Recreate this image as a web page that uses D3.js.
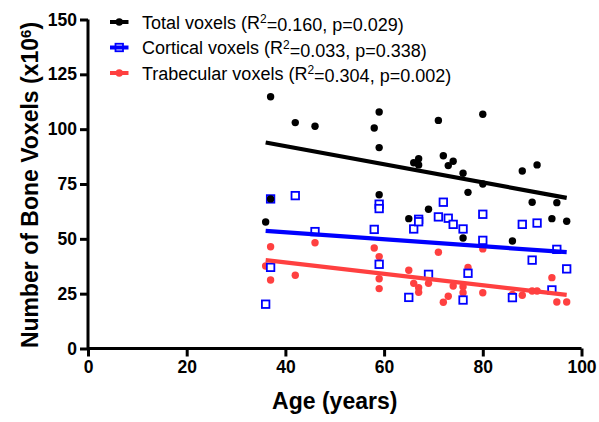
<!DOCTYPE html>
<html>
<head>
<meta charset="utf-8">
<script src="https://cdn.jsdelivr.net/npm/d3@7"></script>
<style>
  html, body { margin: 0; padding: 0; background: #fff; }
  svg { display: block; font-family: "Liberation Sans", Arial, sans-serif; }
</style>
</head>
<body>
<svg id="chart" width="599" height="422"></svg>
<script>
// ---- Data ----
const ages = [36, 37, 37, 42, 46, 58, 59, 59, 59, 65, 66, 67, 67, 69, 71, 72, 73, 74, 76, 76, 77, 80, 80, 86, 88, 90, 91, 94, 95, 97];
const totalVoxels = [57.7, 114.8, 68.2, 103.0, 101.3, 100.5, 107.8, 91.6, 70.1, 59.2, 84.7, 86.5, 83.7, 63.5, 104.0, 87.9, 83.4, 85.4, 79.9, 50.4, 71.2, 106.8, 75.0, 49.0, 80.9, 66.7, 83.7, 59.2, 66.5, 58.0];
const corticalVoxels = [20.2, 68.2, 37.0, 69.7, 53.3, 54.3, 65.8, 63.8, 38.4, 23.3, 54.5, 58.9, 57.8, 33.8, 60.0, 66.7, 59.4, 56.6, 54.5, 22.1, 34.3, 61.2, 49.3, 23.2, 56.6, 40.3, 57.2, 26.7, 45.2, 36.3];
const trabecularVoxels = [37.6, 46.4, 31.2, 33.4, 48.2, 45.8, 41.9, 27.3, 31.8, 35.7, 29.7, 27.7, 25.6, 29.7, 43.9, 21.1, 23.8, 28.5, 25.4, 28.2, 36.9, 45.4, 25.4, 24.6, 24.3, 26.2, 26.2, 32.3, 21.2, 21.2];
const seriesNames = ["Total voxels", "Cortical voxels", "Trabecular voxels"];
const rSquared = ["0.160", "0.033", "0.304"];
const pValues = ["0.029", "0.338", "0.002"];
const xTicks = [0, 20, 40, 60, 80, 100];
const yTicks = [0, 25, 50, 75, 100, 125, 150];

// ---- Layout ----
const W = 599, H = 422;
const margin = { left: 88, right: 17.5, top: 19.5, bottom: 73.5 };
const colors = { total: "#000000", cortical: "#0000ff", trabecular: "#ff4040" };

const svg = d3.select("#chart");
const x = d3.scaleLinear().domain([0, 100]).range([margin.left, W - margin.right]);
const y = d3.scaleLinear().domain([0, 150]).range([H - margin.bottom, margin.top]);

function fit(xs, ys) {
  const n = xs.length;
  const mx = d3.mean(xs), my = d3.mean(ys);
  let sxy = 0, sxx = 0;
  for (let i = 0; i < n; i++) { sxy += (xs[i] - mx) * (ys[i] - my); sxx += (xs[i] - mx) ** 2; }
  const b = sxy / sxx;
  return { b, a: my - b * mx };
}

const series = [
  { key: "trabecular", values: trabecularVoxels, shape: "circle" },
  { key: "cortical", values: corticalVoxels, shape: "square" },
  { key: "total", values: totalVoxels, shape: "circle" }
];

const plot = svg.append("g");
// points
series.forEach(s => {
  const g = plot.append("g");
  const data = ages.map((a, i) => ({ a, v: s.values[i] }));
  if (s.shape === "circle") {
    g.selectAll("circle").data(data).join("circle")
      .attr("cx", d => x(d.a)).attr("cy", d => y(d.v)).attr("r", 3.7)
      .attr("fill", colors[s.key]);
  } else {
    const sz = 7.5;
    g.selectAll("rect").data(data).join("rect")
      .attr("x", d => x(d.a) - sz / 2).attr("y", d => y(d.v) - sz / 2)
      .attr("width", sz).attr("height", sz)
      .attr("fill", "#fff").attr("stroke", colors[s.key]).attr("stroke-width", 1.8);
  }
});
// regression lines
const xMin = d3.min(ages), xMax = d3.max(ages);
[["total", totalVoxels], ["cortical", corticalVoxels], ["trabecular", trabecularVoxels]].forEach(([k, vals]) => {
  const f = fit(ages, vals);
  plot.append("line")
    .attr("x1", x(xMin)).attr("y1", y(f.a + f.b * xMin))
    .attr("x2", x(xMax)).attr("y2", y(f.a + f.b * xMax))
    .attr("stroke", colors[k]).attr("stroke-width", 4.2);
});

// axes
const xAxis = svg.append("g").attr("transform", `translate(0,${H - margin.bottom})`)
  .call(d3.axisBottom(x).tickValues(xTicks).tickSize(8).tickPadding(4));
const yAxis = svg.append("g").attr("transform", `translate(${margin.left},0)`)
  .call(d3.axisLeft(y).tickValues(yTicks).tickSize(8).tickPadding(3));
[xAxis, yAxis].forEach(ax => {
  ax.select(".domain").attr("stroke", "#000").attr("stroke-width", 3);
  ax.selectAll(".tick line").attr("stroke", "#000").attr("stroke-width", 3);
  ax.selectAll(".tick text").attr("fill", "#000")
    .style("font-size", "17.5px").style("font-weight", "bold")
    .style("font-family", "'Liberation Sans', Arial, sans-serif");
});
xAxis.select(".domain").attr("d", `M${x(0)},0H${x(100)}`);
yAxis.select(".domain").attr("d", `M0,${y(0)}V${y(150)}`);

// axis titles
svg.append("text")
  .attr("x", (x(0) + x(100)) / 2).attr("y", 409)
  .attr("text-anchor", "middle")
  .style("font-size", "23px").style("font-weight", "bold")
  .text("Age (years)");
const yl = svg.append("text")
  .attr("transform", `translate(37.5,${(y(0) + y(150)) / 2 + 1}) rotate(-90)`)
  .attr("text-anchor", "middle")
  .style("font-size", "23px").style("font-weight", "bold");
yl.append("tspan").text("Number of Bone Voxels (x10");
yl.append("tspan").attr("dy", "-0.45em").style("font-size", "15px").text("6");
yl.append("tspan").attr("dy", "0.3em").text(")");

// legend
const legendKeys = ["total", "cortical", "trabecular"];
const legendY = [22, 47.5, 73];
legendKeys.forEach((k, i) => {
  const g = svg.append("g").attr("transform", `translate(0,${legendY[i]})`);
  g.append("line").attr("x1", 110).attr("x2", 128.5).attr("y1", 0).attr("y2", 0)
    .attr("stroke", colors[k]).attr("stroke-width", 4);
  if (k === "cortical") {
    g.append("rect").attr("x", 115.5).attr("y", -3.75).attr("width", 7.5).attr("height", 7.5)
      .attr("fill", "none").attr("stroke", colors[k]).attr("stroke-width", 1.8);
  } else {
    g.append("circle").attr("cx", 119.25).attr("cy", 0).attr("r", 3.7).attr("fill", colors[k]);
  }
  const t = g.append("text").attr("x", 142).attr("y", 6.5).style("font-size", "18px").attr("fill", "#000");
  t.append("tspan").text(`${seriesNames[i]} (R`);
  t.append("tspan").attr("dy", "-0.45em").style("font-size", "12px").text("2");
  t.append("tspan").attr("dy", "0.45em").text(`=${rSquared[i]}, p=${pValues[i]})`);
});
</script>
</body>
</html>
